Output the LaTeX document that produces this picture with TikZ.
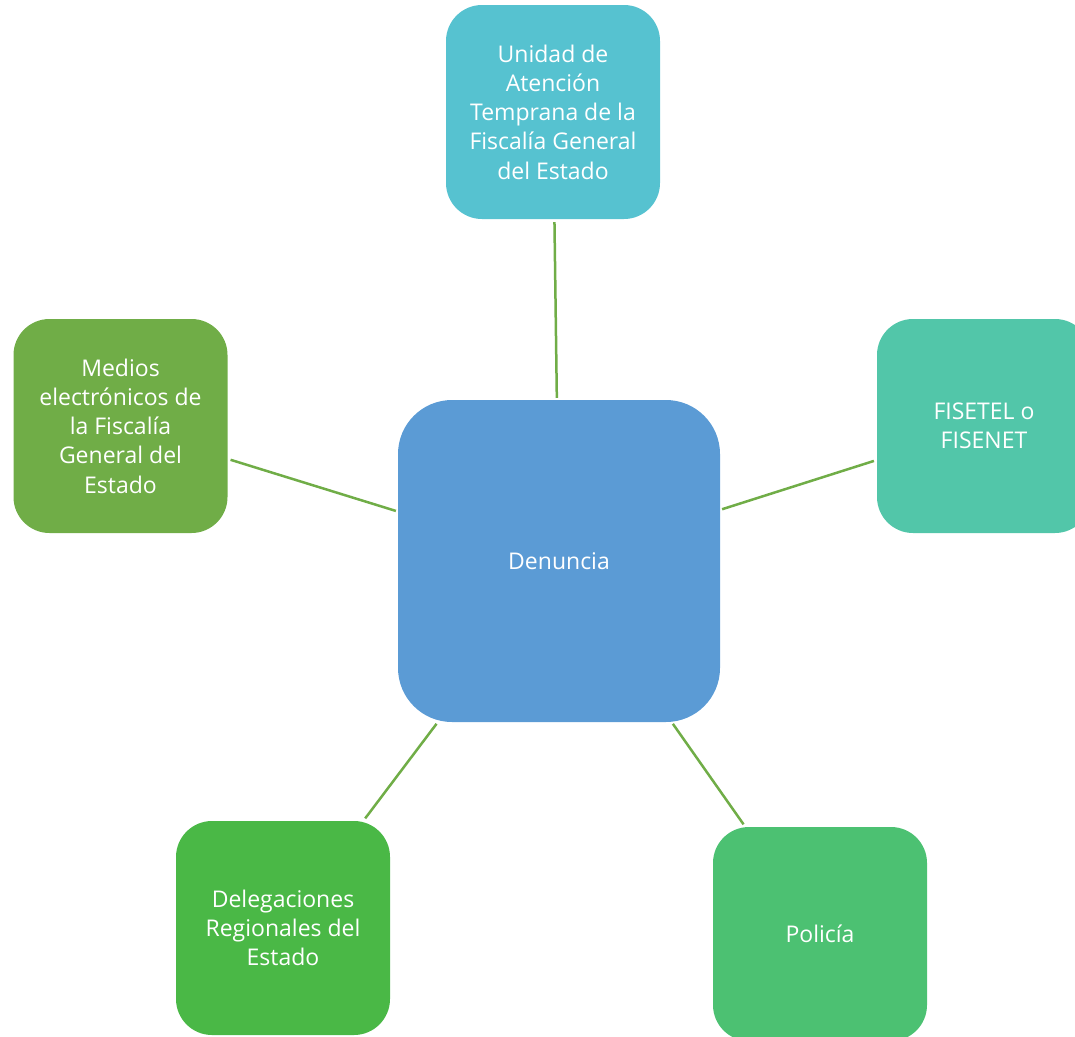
\documentclass[tikz,border=0pt]{standalone}
\usepackage{fontspec}
\setmainfont{Open Sans}
\definecolor{cTop}{HTML}{56C2D0}
\definecolor{cCenter}{HTML}{5B9BD5}
\definecolor{cLeft}{HTML}{70AD47}
\definecolor{cRight}{HTML}{52C6A9}
\definecolor{cBL}{HTML}{4AB846}
\definecolor{cBR}{HTML}{4CC172}
\definecolor{cLine}{HTML}{70AD47}
\begin{document}
\begin{tikzpicture}[x=1pt,y=1pt,
  box/.style={rectangle, rounded corners=36pt, minimum width=214pt, minimum height=214pt,
    inner sep=0pt, text=white, align=center, font=\fontsize{23}{29.2}\selectfont},
  bigbox/.style={box, rounded corners=54pt, minimum width=322pt, minimum height=322pt},
  conn/.style={draw=cLine, line width=2.5pt, shorten <=2pt, shorten >=3pt}]
\useasboundingbox (0,0) rectangle (1075,-1036);
\clip (0,0) rectangle (1075,-1036);
\node[bigbox, fill=cCenter] (c) at (559,-561) {Denuncia};
\node[box, fill=cTop] (t) at (553,-112) {Unidad de\\Atención\\Temprana de la\\Fiscalía General\\del Estado};
\node[box, fill=cLeft] (l) at (120.5,-426) {Medios\\electrónicos de\\la Fiscalía\\General del\\Estado};
\node[box, fill=cRight] (r) at (984,-426) {FISETEL o\\FISENET};
\node[box, fill=cBL] (bl) at (283,-928) {Delegaciones\\Regionales del\\Estado};
\node[box, fill=cBR] (br) at (820,-934) {Policía};
\draw[conn] (c) -- (t);
\draw[conn] (c) -- (l);
\draw[conn] (c) -- (r);
\draw[conn] (c) -- (bl);
\draw[conn] (c) -- (br);
\end{tikzpicture}
\end{document}
